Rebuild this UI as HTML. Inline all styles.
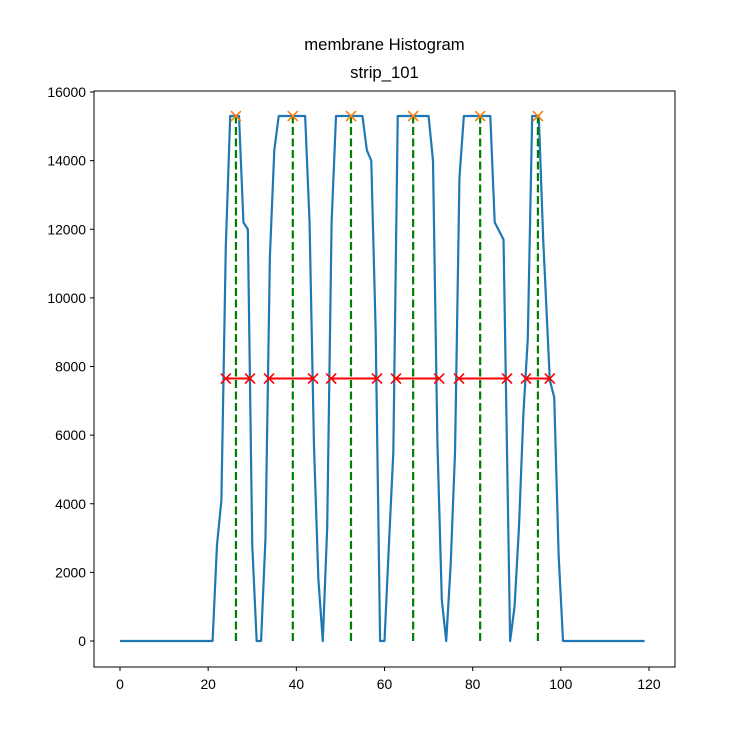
<!DOCTYPE html>
<html><head><meta charset="utf-8"><style>
body{margin:0;background:#fff}
svg{display:block;font-family:"Liberation Sans","DejaVu Sans",sans-serif}
</style></head><body>
<svg id="chart" width="750" height="750" viewBox="0 0 750 750">
<rect width="750" height="750" fill="#fff"/>
<text x="384.5" y="50" font-size="16.7" text-anchor="middle">membrane Histogram</text>
<text x="384.5" y="78" font-size="16.7" text-anchor="middle">strip_101</text>
<g id="plot"></g>
<rect x="94" y="91" width="581" height="576" fill="none" stroke="#000" stroke-width="1"/>
</svg>
<script>
const xs=[0,21,22,23,24,25,26,27,28,29,30,31,32,33,34,35,36,42,43,44,45,46,47,48,49,55,56,57,58,59,60,61,62,63,70,71,72,73,74,75,76,77,78,84,85,87,88.5,89.5,90.5,91.5,92.5,93.5,95,96,97.5,98.5,99.5,100.5,119];
const ys=[0,0,2800,4100,11500,15300,15300,15300,12200,12000,2800,0,0,3000,11200,14300,15300,15300,12200,5700,1800,0,3300,12200,15300,15300,14300,14000,9000,0,0,2800,5500,15300,15300,14000,5800,1200,0,2200,5500,13500,15300,15300,12200,11700,0,1000,3300,6600,8800,15300,15300,11700,7600,7100,2500,0,0];
const peaks=[26.3,39.2,52.4,66.5,81.7,94.8];
const peakY=15300;
const widthLefts=[24.0,33.8,47.9,62.6,76.9,92.1];
const widthRights=[29.5,43.8,58.3,72.4,87.8,97.5];
const widthY=7650;
const xTicks=[0,20,40,60,80,100,120];
const yTicks=[0,2000,4000,6000,8000,10000,12000,14000,16000];
const X=v=>120+v*(649-120)/120;
const Y=v=>641-v*(641-92)/16000;
const NS='http://www.w3.org/2000/svg';
const g=document.getElementById('plot');
function mk(t,a){const e=document.createElementNS(NS,t);for(const k in a)e.setAttribute(k,a[k]);g.appendChild(e);return e;}
xTicks.forEach(t=>{
 const l=mk('line',{x1:X(t),x2:X(t),y1:667,y2:671,stroke:'#000'});
 
 
 const tx=mk('text',{x:X(t),y:689,'font-size':13.9,'text-anchor':'middle'});tx.textContent=t;
 
 
});
yTicks.forEach(t=>{
 const l=mk('line',{x1:90,x2:94,y1:Y(t),y2:Y(t),stroke:'#000'});
 
 
 const tx=mk('text',{x:86,y:Y(t)+5,'font-size':13.9,'text-anchor':'end'});tx.textContent=t;
 
 
});
const pl=mk('polyline',{points:xs.map((x,i)=>X(x)+','+Y(ys[i])).join(' '),fill:'none',stroke:'#1f77b4','stroke-width':2.2,'stroke-linejoin':'round'});


peaks.forEach(p=>{
 const l=mk('line',{x1:X(p),x2:X(p),y1:Y(0),y2:Y(peakY),stroke:'#008000','stroke-width':2.2,'stroke-dasharray':'8,3.5'});
 
 
});
widthLefts.forEach((a,i)=>{
 const b=widthRights[i];
 const l=mk('line',{x1:X(a),x2:X(b),y1:Y(widthY),y2:Y(widthY),stroke:'#ff0000','stroke-width':2});
 
 
 [a,b].forEach(v=>{
  const c=mk('path',{d:`M${X(v)-5},${Y(widthY)-5}L${X(v)+5},${Y(widthY)+5}M${X(v)-5},${Y(widthY)+5}L${X(v)+5},${Y(widthY)-5}`,stroke:'#ff0000','stroke-width':1.6});
  
  
 });
});
peaks.forEach(p=>{
 const c=mk('path',{d:`M${X(p)-5},${Y(peakY)-5}L${X(p)+5},${Y(peakY)+5}M${X(p)-5},${Y(peakY)+5}L${X(p)+5},${Y(peakY)-5}`,stroke:'#ff7f0e','stroke-width':1.6});
 
 
});
</script>
</body></html>
